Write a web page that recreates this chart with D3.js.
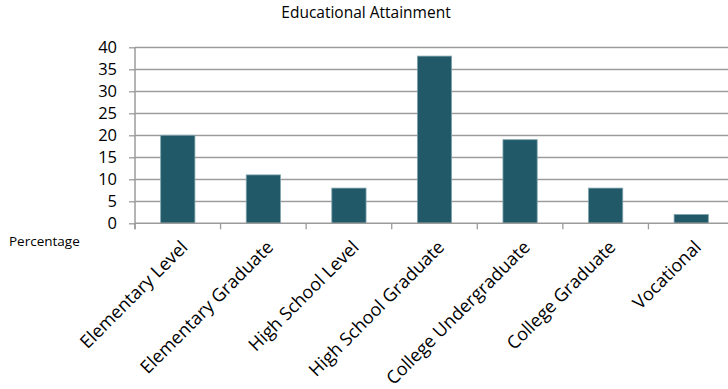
<!DOCTYPE html>
<html><head><meta charset="utf-8">
<script src="https://cdn.jsdelivr.net/npm/d3@7"></script>
<style>body{margin:0;background:#fff}svg{display:block}text{font-family:"Open Sans",sans-serif;fill:#000}</style>
</head><body><svg id="c" width="728" height="389"></svg>
<script>
const categories = ["Elementary Level","Elementary Graduate","High School Level","High School Graduate","College Undergraduate","College Graduate","Vocational"];
const values = [20, 11, 8, 38, 19, 8, 2];
const yTicks = [0,5,10,15,20,25,30,35,40];
const title = "Educational Attainment";
const yTitle = "Percentage";

const svg = d3.select("#c");
const mLeft = 135, mRight = 734, mTop = 47.3, mBottom = 223.3;
const x = d3.scaleBand().domain(categories).range([mLeft, mRight]).paddingInner(0.6).paddingOuter(0.3);
const xb = d3.scaleBand().domain(categories).range([mLeft, mRight]);
const y = d3.scaleLinear().domain([0, 40]).range([mBottom, mTop]);

// gridlines
svg.append("g").selectAll("line").data(yTicks.filter(t=>t>0)).join("line")
  .attr("x1", mLeft).attr("x2", mRight).attr("y1", d=>y(d)+0.8).attr("y2", d=>y(d)+0.8)
  .attr("stroke", "#dcdcdc").attr("stroke-width", 1);
svg.append("g").selectAll("line").data(yTicks.filter(t=>t>0)).join("line")
  .attr("x1", mLeft).attr("x2", mRight).attr("y1", d=>y(d)).attr("y2", d=>y(d))
  .attr("stroke", "#9b9b9b").attr("stroke-width", 1.3);

// bars
svg.append("g").selectAll("rect").data(values).join("rect")
  .attr("x", (d,i)=>x(categories[i])).attr("width", x.bandwidth())
  .attr("y", d=>y(d)).attr("height", d=>mBottom - y(d))
  .attr("fill", "#215968").attr("stroke", "#7fa3ad").attr("stroke-width", 0.8);

// y axis
const ya = svg.append("g").attr("transform", `translate(${mLeft},0)`)
  .call(d3.axisLeft(y).tickValues(yTicks).tickSize(6).tickPadding(12));
ya.select(".domain").attr("stroke", "#9b9b9b").attr("stroke-width", 1.5).attr("d", `M0,${mTop}V${mBottom+6}`);
ya.selectAll(".tick line").attr("stroke", "#9b9b9b").attr("stroke-width", 1.3);
ya.selectAll(".tick text").attr("font-size", 16.5).attr("font-family", "Open Sans").attr("fill", "#000");

// x axis
const xa = svg.append("g").attr("transform", `translate(0,${mBottom})`);
xa.append("line").attr("x1", mLeft).attr("x2", mRight).attr("stroke", "#9b9b9b").attr("stroke-width", 1.5);
xa.selectAll("line.t").data(categories).join("line").attr("class","t")
  .attr("x1", d=>xb(d)).attr("x2", d=>xb(d)).attr("y1", 0).attr("y2", 6)
  .attr("stroke", "#9b9b9b").attr("stroke-width", 1.3);
xa.selectAll("text").data(categories).join("text")
  .attr("transform", d=>`translate(${xb(d)+xb.bandwidth()/2+11},${25}) rotate(-45)`)
  .attr("text-anchor", "end").attr("font-size", 18).text(d=>d);

svg.append("text").attr("x", 366).attr("y", 18).attr("text-anchor","middle").attr("font-size", 15.5).text(title);
svg.append("text").attr("x", 9).attr("y", 246).attr("font-size", 13.5).text(yTitle);
</script></body></html>
